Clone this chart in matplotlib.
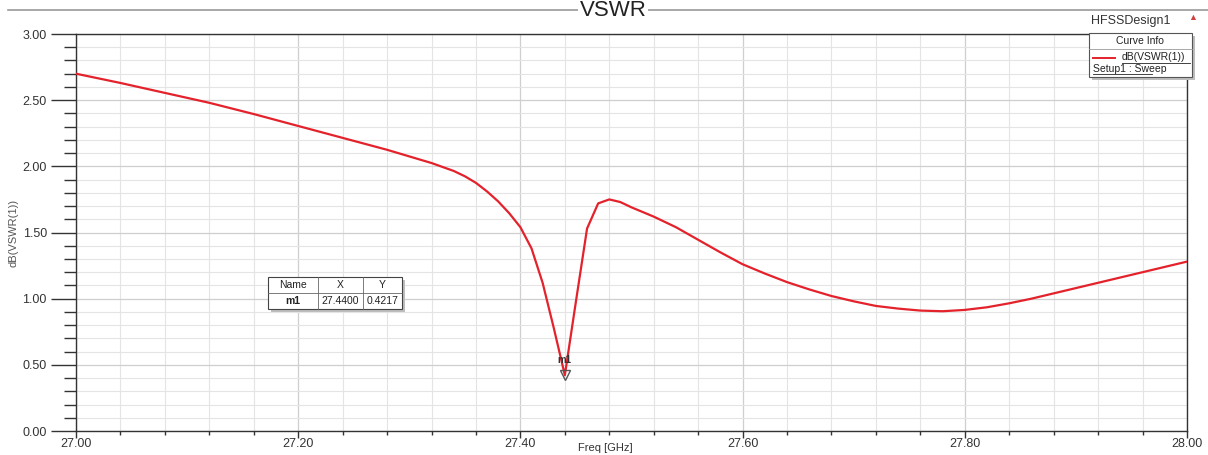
import numpy as np
import matplotlib
matplotlib.use("Agg")
import matplotlib.pyplot as plt
from matplotlib.patches import Rectangle
from matplotlib.ticker import MultipleLocator, FormatStrFormatter

plt.rcParams['font.family'] = ['Liberation Sans', 'DejaVu Sans']

# dB(VSWR(1)) sweep, Setup1 : Sweep
freq_ghz = [27.00, 27.04, 27.08, 27.12, 27.16, 27.20, 27.24, 27.28, 27.30, 27.32,
            27.34, 27.35, 27.36, 27.37, 27.38, 27.39, 27.40, 27.41, 27.42, 27.43,
            27.44, 27.45, 27.46, 27.47, 27.48, 27.49, 27.50, 27.52, 27.54, 27.56,
            27.58, 27.60, 27.62, 27.64, 27.66, 27.68, 27.70, 27.72, 27.74, 27.76,
            27.78, 27.80, 27.82, 27.84, 27.86, 27.88, 27.90, 27.92, 27.94, 27.96,
            27.98, 28.00]
vswr_db = [2.70, 2.63, 2.555, 2.48, 2.395, 2.305, 2.215, 2.125, 2.075, 2.025,
           1.965, 1.925, 1.875, 1.81, 1.735, 1.645, 1.54, 1.38, 1.12, 0.78,
           0.4217, 0.98, 1.53, 1.72, 1.75, 1.73, 1.69, 1.62, 1.54, 1.445,
           1.35, 1.26, 1.19, 1.125, 1.07, 1.02, 0.98, 0.945, 0.925, 0.91,
           0.905, 0.915, 0.935, 0.965, 1.0, 1.04, 1.08, 1.12, 1.16, 1.20,
           1.24, 1.28]

marker_name = "m1"
marker_x = 27.44
marker_y = 0.4217

W, H = 1208, 455
fig = plt.figure(figsize=(W / 100, H / 100), dpi=100)
fig.patch.set_facecolor("white")

def px(x0, y0, x1, y1):
    # pixel box (top-left origin) -> figure fraction rect
    return [x0 / W, 1 - y1 / H, (x1 - x0) / W, (y1 - y0) / H]

ax = fig.add_axes(px(76, 34, 1187, 431))
ax.plot(freq_ghz, vswr_db, color="#e3222b", lw=1.6, zorder=3)

ax.set_xlim(27.0, 28.0)
ax.set_ylim(0.0, 3.0)
ax.xaxis.set_major_locator(MultipleLocator(0.2))
ax.xaxis.set_minor_locator(MultipleLocator(0.04))
ax.yaxis.set_major_locator(MultipleLocator(0.5))
ax.yaxis.set_minor_locator(MultipleLocator(0.1))
ax.xaxis.set_major_formatter(FormatStrFormatter("%.2f"))
ax.yaxis.set_major_formatter(FormatStrFormatter("%.2f"))

ax.grid(which="major", color="#cfcfcf", lw=0.9, zorder=0)
ax.grid(which="minor", color="#e4e4e4", lw=0.8, zorder=0)

ax.tick_params(axis="y", which="major", direction="out", length=18, width=1.0,
               color="#333333", labelsize=9, labelcolor="#333333", pad=3)
ax.tick_params(axis="y", which="minor", direction="out", length=9, width=1.0,
               color="#333333")
ax.tick_params(axis="x", which="major", direction="out", length=5, width=1.0,
               color="#333333", labelsize=9, labelcolor="#333333", pad=0)
ax.tick_params(axis="x", which="minor", direction="out", length=3, width=1.0,
               color="#333333")
for side in ["left", "bottom", "top", "right"]:
    ax.spines[side].set_color("#333333")
    ax.spines[side].set_linewidth(1.0)

ax.set_ylabel("dB(VSWR(1))", fontsize=8, color="#555555")
ax.yaxis.set_label_coords(-0.052, 0.5)
fig.text(605 / W, 1 - 448 / H, "Freq [GHz]", ha="center", va="center",
         fontsize=8, color="#333333")

# marker on the curve
ax.plot([marker_x], [marker_y], marker="v", ms=7, mfc="none", mec="#555555",
        mew=1.0, zorder=4)
ax.annotate(marker_name, (marker_x, marker_y), xytext=(0, 7),
            textcoords="offset points", ha="center", va="bottom",
            fontsize=7, fontweight="bold", color="#333333", zorder=5)

# header strip
fig.add_artist(plt.Line2D([8 / W, 1.0], [1 - 10 / H, 1 - 10 / H],
                          color="#9a9a9a", lw=1.2))
fig.text(613 / W, 1 - 11 / H, "VSWR", ha="center", va="center",
         fontsize=16, color="#222222",
         bbox=dict(facecolor="white", edgecolor="none", pad=1))
fig.text(1131 / W, 1 - 21 / H, "HFSSDesign1", ha="center", va="center",
         fontsize=9, color="#333333")
fig.text(1193 / W, 1 - 18 / H, "\u25B2", ha="center", va="center",
         fontsize=6.5, color="#d04040")

# curve info box
fig.add_artist(Rectangle((1092 / W, 1 - 80 / H), 103 / W, 44 / H,
                         transform=fig.transFigure, facecolor="#bdbdbd",
                         edgecolor="none", zorder=5))
fig.add_artist(Rectangle((1089 / W, 1 - 77 / H), 103 / W, 44 / H,
                         transform=fig.transFigure, facecolor="white",
                         edgecolor="#555555", lw=0.8, zorder=6))
fig.add_artist(plt.Line2D([1089 / W, 1192 / W], [1 - 49 / H, 1 - 49 / H],
                          color="#999999", lw=0.6, zorder=7))
fig.text(1140 / W, 1 - 41 / H, "Curve Info", ha="center", va="center",
         fontsize=7.5, color="#222222", zorder=7)
fig.add_artist(plt.Line2D([1093 / W, 1115 / W], [1 - 58 / H, 1 - 58 / H],
                          color="#e3222b", lw=1.4, zorder=7))
fig.text(1122 / W, 1 - 57 / H, "dB(VSWR(1))", ha="left", va="center",
         fontsize=7.5, color="#222222", zorder=7)
fig.add_artist(plt.Line2D([1122 / W, 1190 / W], [1 - 62.5 / H, 1 - 62.5 / H],
                          color="#222222", lw=0.6, zorder=7))
fig.text(1093 / W, 1 - 68.5 / H, "Setup1 : Sweep", ha="left", va="center",
         fontsize=7.5, color="#222222", zorder=7)
fig.add_artist(plt.Line2D([1093 / W, 1152 / W], [1 - 74 / H, 1 - 74 / H],
                          color="#222222", lw=0.6, zorder=7))

# marker table
tx0, tx1, tx2, tx3 = 268, 318, 363, 402
ty0, ty1, ty2 = 277, 293, 309
fig.add_artist(Rectangle(((tx0 + 3) / W, 1 - (ty2 + 3) / H), (tx3 - tx0) / W,
                         (ty2 - ty0) / H, transform=fig.transFigure,
                         facecolor="#bdbdbd", edgecolor="none", zorder=5))
fig.add_artist(Rectangle((tx0 / W, 1 - ty2 / H), (tx3 - tx0) / W,
                         (ty2 - ty0) / H, transform=fig.transFigure,
                         facecolor="white", edgecolor="#444444", lw=0.8, zorder=6))
fig.add_artist(plt.Line2D([tx0 / W, tx3 / W], [1 - ty1 / H, 1 - ty1 / H],
                          color="#666666", lw=0.6, zorder=7))
for cx in (tx1, tx2):
    fig.add_artist(plt.Line2D([cx / W, cx / W], [1 - ty0 / H, 1 - ty2 / H],
                              color="#666666", lw=0.6, zorder=7))
cells = [["Name", "X", "Y"],
         [marker_name, f"{marker_x:.4f}", f"{marker_y:.4f}"]]
centers = [(tx0 + tx1) / 2, (tx1 + tx2) / 2, (tx2 + tx3) / 2]
for r, (row, cy) in enumerate(zip(cells, [(ty0 + ty1) / 2, (ty1 + ty2) / 2])):
    for txt, cx in zip(row, centers):
        fig.text(cx / W, 1 - cy / H, txt, ha="center", va="center",
                 fontsize=7.5, color="#222222", zorder=8,
                 fontweight="bold" if (r == 1 and txt == marker_name) else "normal")

fig.savefig("out.png", dpi=100, facecolor="white")
